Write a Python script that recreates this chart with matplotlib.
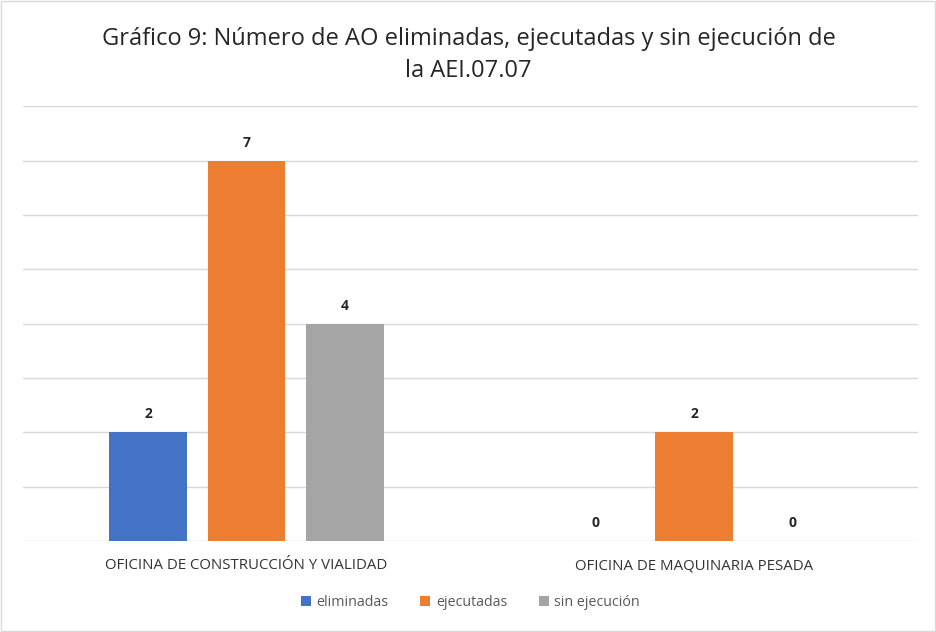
import matplotlib.pyplot as plt
import numpy as np
from matplotlib.patches import Rectangle

#------------------------------------------------------------------------------
#                   data
#------------------------------------------------------------------------------
categories = ["OFICINA DE CONSTRUCCIÓN Y VIALIDAD", "OFICINA DE MAQUINARIA PESADA"]
series_names = ["eliminadas", "ejecutadas", "sin ejecución"]
eliminadas = [2, 0]
ejecutadas = [7, 2]
sin_ejecucion = [4, 0]
colors = ["#4472C4", "#ED7D31", "#A5A5A5"]

#------------------------------------------------------------------------------
#                   plot
#------------------------------------------------------------------------------
plt.rcParams['font.family'] = ['Open Sans', 'DejaVu Sans']

fig = plt.figure(figsize=(9.37, 6.32), dpi=100)
ax = fig.add_axes([0.0243, 0.144, 0.9552, 0.688])

x = np.arange(len(categories))
width = 0.173
pitch = 0.22
values = [eliminadas, ejecutadas, sin_ejecucion]
for i, (name, vals) in enumerate(zip(series_names, values)):
    pos = x + (i - 1) * pitch
    bars = ax.bar(pos, vals, width, color=colors[i], label=name, zorder=3)
    for b, v in zip(bars, vals):
        ax.text(b.get_x() + b.get_width() / 2, v + 0.2, str(v),
                ha='center', va='bottom', fontsize=10, fontweight='bold', color='#262626')

ax.set_xlim(-0.5, 1.5)
ax.set_ylim(0, 8)
ax.set_yticks(range(0, 9))
ax.yaxis.grid(True, color='#d9d9d9', linewidth=1, zorder=0)
ax.tick_params(axis='y', left=False, labelleft=False)
ax.tick_params(axis='x', bottom=False, labelsize=10.8, colors='#333333', pad=9)
ax.set_xticks(x)
ax.set_xticklabels(categories)
for s in ax.spines.values():
    s.set_visible(False)

fig.text(0.5, 0.938, "Gráfico 9: Número de AO eliminadas, ejecutadas y sin ejecución de",
         ha='center', va='center', fontsize=17, color='#262626')
fig.text(0.5, 0.888, "la AEI.07.07", ha='center', va='center', fontsize=17, color='#262626')

ax.legend(loc='center', bbox_to_anchor=(0.502, 0.047), bbox_transform=fig.transFigure,
          ncol=3, frameon=False, fontsize=10.3, handlelength=0.7, handleheight=0.7,
          handletextpad=0.4, columnspacing=2.2, labelcolor='#595959')

fig.patches.append(Rectangle((0.001, 0.002), 0.997, 0.996, transform=fig.transFigure,
                             fill=False, edgecolor='#d9d9d9', linewidth=1))

fig.savefig("out.png", dpi=100)
